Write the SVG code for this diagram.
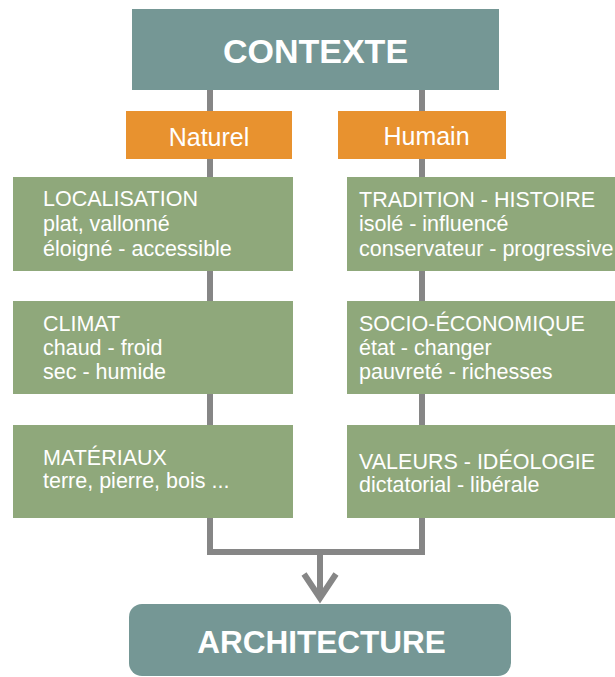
<svg xmlns="http://www.w3.org/2000/svg" width="615" height="677" viewBox="0 0 615 677">
<style>
.bg{fill:#ffffff}
.teal{fill:#759795}
.orange{fill:#e8922f}
.green{fill:#8fa87b}
.line{fill:none;stroke:#868686;stroke-width:6}
.title{font-family:"Liberation Sans",Arial,sans-serif;font-weight:bold;fill:#ffffff;text-anchor:middle}
.sub{font-family:"Liberation Sans",Arial,sans-serif;font-size:25px;fill:#ffffff;text-anchor:middle}
.txt{font-family:"Liberation Sans",Arial,sans-serif;font-size:21.5px;fill:#ffffff}
</style>
<rect class="bg" x="0" y="0" width="615" height="677"/>
<g id="connectors">
<line class="line" x1="210" y1="88" x2="210" y2="552"/>
<line class="line" x1="422" y1="88" x2="422" y2="552"/>
<path class="line" d="M207,552 H425"/>
<line class="line" x1="320" y1="552" x2="320" y2="596"/>
<path class="line" d="M304,574 L320,598 L336,574" stroke-linejoin="miter"/>
</g>
<g id="contexte">
<rect class="teal" x="132" y="9" width="367" height="81"/>
<text class="title" x="315.5" y="63" font-size="34">CONTEXTE</text>
</g>
<g id="naturel">
<rect class="orange" x="126" y="111" width="166" height="48"/>
<text class="sub" x="209" y="146">Naturel</text>
</g>
<g id="humain">
<rect class="orange" x="338" y="111" width="168" height="48"/>
<text class="sub" x="426.5" y="145">Humain</text>
</g>
<g id="localisation">
<rect class="green" x="13" y="177" width="280" height="94"/>
<text class="txt" x="43" y="206">LOCALISATION</text>
<text class="txt" x="43" y="231">plat, vallonné</text>
<text class="txt" x="43" y="256">éloigné - accessible</text>
</g>
<g id="climat">
<rect class="green" x="13" y="301" width="280" height="93"/>
<text class="txt" x="43" y="331">CLIMAT</text>
<text class="txt" x="43" y="355">chaud - froid</text>
<text class="txt" x="43" y="379">sec - humide</text>
</g>
<g id="materiaux">
<rect class="green" x="13" y="425" width="280" height="93"/>
<text class="txt" x="43" y="465">MATÉRIAUX</text>
<text class="txt" x="43" y="488">terre, pierre, bois ...</text>
</g>
<g id="tradition">
<rect class="green" x="347" y="177" width="275" height="94"/>
<text class="txt" x="359" y="207">TRADITION - HISTOIRE</text>
<text class="txt" x="359" y="231">isolé - influencé</text>
<text class="txt" x="359" y="256">conservateur - progressive</text>
</g>
<g id="socio">
<rect class="green" x="347" y="301" width="275" height="93"/>
<text class="txt" x="359" y="331">SOCIO-ÉCONOMIQUE</text>
<text class="txt" x="359" y="355">état - changer</text>
<text class="txt" x="359" y="379">pauvreté - richesses</text>
</g>
<g id="valeurs">
<rect class="green" x="347" y="425" width="275" height="93"/>
<text class="txt" x="359" y="469">VALEURS - IDÉOLOGIE</text>
<text class="txt" x="359" y="492">dictatorial - libérale</text>
</g>
<g id="architecture">
<rect class="teal" x="129" y="604" width="382" height="72" rx="13" ry="13"/>
<text class="title" x="321.5" y="653" font-size="31.5">ARCHITECTURE</text>
</g>
</svg>
